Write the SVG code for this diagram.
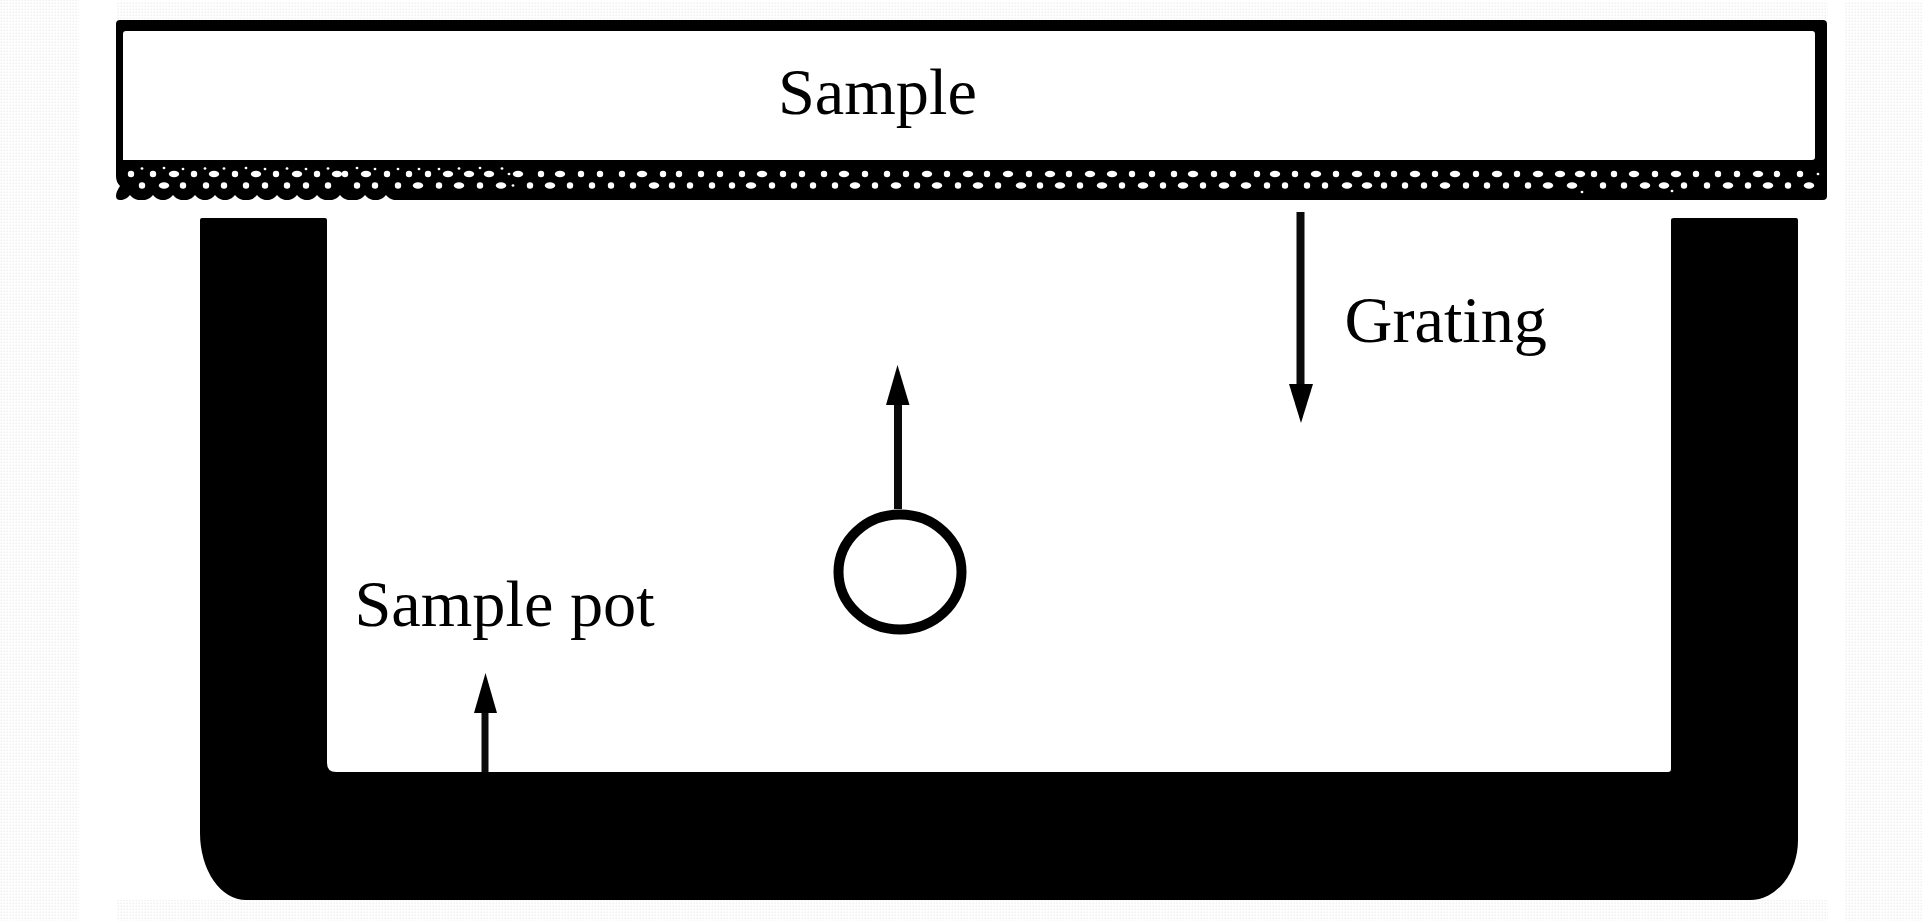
<svg xmlns="http://www.w3.org/2000/svg" width="1923" height="921" viewBox="0 0 1923 921">
<style>
text{font-family:"Liberation Serif","Times New Roman",serif;font-size:66.3px;fill:#000}
.ink{fill:#000}
.hole{fill:#fff}
.shaft{stroke:#0a0a0a;fill:none}
</style>
<defs>
<pattern id="speck" width="3" height="3" patternUnits="userSpaceOnUse"><rect width="3" height="3" fill="#fff"/><rect width="2" height="1" fill="#f3f3f3"/><rect x="1" y="2" width="1" height="1" fill="#f5f5f5"/></pattern>
<ellipse id="d" rx="3.2" ry="3.2"/>
<ellipse id="w" rx="5.2" ry="3.2"/>
<ellipse id="t" rx="1.4" ry="1.2"/>
</defs>
<rect width="1923" height="921" fill="#fff"/>
<g id="scan-margins" fill="url(#speck)">
<rect x="0" y="0" width="79" height="921"/>
<rect x="1844" y="2" width="79" height="919"/>
<rect x="116" y="2" width="1712" height="18"/>
<rect x="116" y="900" width="1712" height="21"/>
</g>
<g id="sample-pot">
<path class="ink" d="M202 218H325Q327 218 327 220V763Q327 772 336 772H1668Q1671 772 1671 769V220Q1671 218 1674 218H1796Q1798 218 1798 220V840A48 60 0 0 1 1750 900H246A46 67 0 0 1 200 833V220Q200 218 202 218Z"/>
</g>
<g id="sample-plate">
<path class="ink" fill-rule="evenodd" d="M120 20H1823Q1827 20 1827 24V196Q1827 200 1823 200H394Q389 199 386 195Q383 199 378 200H373Q368 199 365 195Q362 199 357 200H348Q343 199 340 195Q337 199 332 200H325Q320 199 317 195Q314 199 309 200H305Q300 199 297 195Q294 199 289 200H285Q280 199 277 195Q274 199 269 200H265Q260 199 257 195Q254 199 249 200H243Q238 199 235 195Q232 199 227 200H223Q218 199 215 195Q212 199 207 200H203Q198 199 195 195Q192 199 187 200H181Q176 199 173 195Q170 199 165 200H161Q156 199 153 195Q150 199 145 200H138Q133 199 130 195Q127 199 122 200H120Q116 200 116 196Q116 192 120 186Q116 182 116 176V24Q116 20 120 20ZM126 31Q123 31 123 34V160H1812Q1815 160 1815 157V34Q1815 31 1812 31Z"/>
<g class="hole">
<!-- upper row -->
<use href="#d" x="131" y="174"/><use href="#d" x="153" y="174"/><use href="#w" x="174" y="174"/><use href="#d" x="194" y="174"/><use href="#w" x="214" y="174"/><use href="#d" x="235" y="174"/><use href="#w" x="256" y="174"/><use href="#d" x="276" y="174"/><use href="#w" x="297" y="174"/><use href="#d" x="317" y="174"/><use href="#w" x="337" y="174"/><use href="#d" x="345" y="174"/><use href="#w" x="366" y="174"/><use href="#d" x="387" y="174"/><use href="#d" x="409" y="174"/><use href="#d" x="428" y="174"/><use href="#w" x="448" y="174"/><use href="#w" x="469" y="174"/><use href="#w" x="489" y="174"/><use href="#t" x="509" y="174"/><use href="#w" x="518" y="174"/><use href="#d" x="541" y="174"/><use href="#w" x="560" y="174"/><use href="#d" x="581" y="174"/><use href="#d" x="600" y="174"/><use href="#d" x="622" y="174"/><use href="#w" x="642" y="174"/><use href="#d" x="663" y="174"/><use href="#d" x="679" y="174"/><use href="#d" x="701" y="174"/><use href="#d" x="720" y="174"/><use href="#d" x="742" y="174"/><use href="#w" x="762" y="174"/><use href="#d" x="783" y="174"/><use href="#d" x="802" y="174"/><use href="#d" x="824" y="174"/><use href="#w" x="844" y="174"/><use href="#d" x="865" y="174"/><use href="#d" x="887" y="174"/><use href="#d" x="906" y="174"/><use href="#w" x="927" y="174"/><use href="#d" x="947" y="174"/><use href="#w" x="968" y="174"/><use href="#d" x="987" y="174"/><use href="#w" x="1008" y="174"/><use href="#d" x="1029" y="174"/><use href="#w" x="1050" y="174"/><use href="#d" x="1069" y="174"/><use href="#w" x="1090" y="174"/><use href="#w" x="1112" y="174"/><use href="#d" x="1132" y="174"/><use href="#d" x="1152" y="174"/><use href="#d" x="1174" y="174"/><use href="#w" x="1193" y="174"/><use href="#d" x="1214" y="174"/><use href="#d" x="1233" y="174"/><use href="#d" x="1257" y="174"/><use href="#w" x="1275" y="174"/><use href="#d" x="1295" y="174"/><use href="#w" x="1316" y="174"/><use href="#d" x="1336" y="174"/><use href="#w" x="1357" y="174"/><use href="#d" x="1377" y="174"/><use href="#d" x="1394" y="174"/><use href="#w" x="1415" y="174"/><use href="#d" x="1435" y="174"/><use href="#w" x="1455" y="174"/><use href="#d" x="1476" y="174"/><use href="#w" x="1497" y="174"/><use href="#d" x="1517" y="174"/><use href="#w" x="1538" y="174"/><use href="#w" x="1560" y="174"/><use href="#w" x="1580" y="174"/><use href="#d" x="1594" y="174"/><use href="#d" x="1614" y="174"/><use href="#w" x="1634" y="174"/><use href="#d" x="1655" y="174"/><use href="#w" x="1676" y="174"/><use href="#d" x="1696" y="174"/><use href="#d" x="1718" y="174"/><use href="#d" x="1737" y="174"/><use href="#w" x="1758" y="174"/><use href="#d" x="1777" y="174"/><use href="#d" x="1800" y="174"/><use href="#t" x="1818" y="174"/>
<!-- lower row -->
<use href="#d" x="142" y="185.5"/><use href="#w" x="164" y="185.5"/><use href="#d" x="183" y="185.5"/><use href="#d" x="206" y="185.5"/><use href="#d" x="224" y="185.5"/><use href="#d" x="246" y="185.5"/><use href="#d" x="265" y="185.5"/><use href="#d" x="287" y="185.5"/><use href="#d" x="306" y="185.5"/><use href="#d" x="328" y="185.5"/><use href="#d" x="357" y="185.5"/><use href="#d" x="375" y="185.5"/><use href="#d" x="398" y="185.5"/><use href="#w" x="418" y="185.5"/><use href="#d" x="439" y="185.5"/><use href="#w" x="459" y="185.5"/><use href="#d" x="480" y="185.5"/><use href="#w" x="501" y="185.5"/><use href="#t" x="513" y="185.5"/><use href="#d" x="530" y="185.5"/><use href="#w" x="550" y="185.5"/><use href="#d" x="570" y="185.5"/><use href="#d" x="592" y="185.5"/><use href="#d" x="611" y="185.5"/><use href="#d" x="633" y="185.5"/><use href="#w" x="654" y="185.5"/><use href="#d" x="672" y="185.5"/><use href="#d" x="690" y="185.5"/><use href="#d" x="712" y="185.5"/><use href="#d" x="732" y="185.5"/><use href="#w" x="751" y="185.5"/><use href="#d" x="772" y="185.5"/><use href="#d" x="794" y="185.5"/><use href="#d" x="813" y="185.5"/><use href="#d" x="835" y="185.5"/><use href="#w" x="855" y="185.5"/><use href="#d" x="875" y="185.5"/><use href="#w" x="896" y="185.5"/><use href="#d" x="917" y="185.5"/><use href="#w" x="937" y="185.5"/><use href="#d" x="958" y="185.5"/><use href="#w" x="978" y="185.5"/><use href="#d" x="998" y="185.5"/><use href="#w" x="1021" y="185.5"/><use href="#d" x="1040" y="185.5"/><use href="#w" x="1060" y="185.5"/><use href="#d" x="1080" y="185.5"/><use href="#w" x="1102" y="185.5"/><use href="#d" x="1122" y="185.5"/><use href="#w" x="1143" y="185.5"/><use href="#d" x="1163" y="185.5"/><use href="#w" x="1183" y="185.5"/><use href="#d" x="1203" y="185.5"/><use href="#w" x="1224" y="185.5"/><use href="#w" x="1246" y="185.5"/><use href="#d" x="1267" y="185.5"/><use href="#d" x="1285" y="185.5"/><use href="#d" x="1307" y="185.5"/><use href="#d" x="1325" y="185.5"/><use href="#w" x="1347" y="185.5"/><use href="#w" x="1367" y="185.5"/><use href="#d" x="1384" y="185.5"/><use href="#d" x="1405" y="185.5"/><use href="#d" x="1424" y="185.5"/><use href="#w" x="1445" y="185.5"/><use href="#d" x="1466" y="185.5"/><use href="#d" x="1487" y="185.5"/><use href="#d" x="1506" y="185.5"/><use href="#d" x="1528" y="185.5"/><use href="#w" x="1548" y="185.5"/><use href="#w" x="1572" y="185.5"/><use href="#t" x="1582" y="192"/><use href="#d" x="1603" y="185.5"/><use href="#d" x="1624" y="185.5"/><use href="#w" x="1645" y="185.5"/><use href="#w" x="1664" y="185.5"/><use href="#t" x="1672" y="191"/><use href="#d" x="1684" y="185.5"/><use href="#d" x="1707" y="185.5"/><use href="#w" x="1728" y="185.5"/><use href="#d" x="1748" y="185.5"/><use href="#w" x="1768" y="185.5"/><use href="#d" x="1788" y="185.5"/><use href="#w" x="1809" y="185.5"/>
<!-- small dots near the upper edge, left end only -->
<use href="#t" x="142" y="168.5"/><use href="#t" x="164" y="168"/><use href="#t" x="183" y="169"/><use href="#t" x="205" y="168.5"/><use href="#t" x="224" y="168.5"/><use href="#t" x="246" y="168"/><use href="#t" x="265" y="169"/><use href="#t" x="287" y="168.5"/><use href="#t" x="306" y="169"/><use href="#t" x="328" y="168.5"/><use href="#t" x="357" y="168"/><use href="#t" x="375" y="169"/><use href="#t" x="398" y="169"/><use href="#t" x="419" y="169"/><use href="#t" x="439" y="169"/><use href="#t" x="459" y="168.5"/><use href="#t" x="480" y="168"/><use href="#t" x="502" y="168.5"/>
</g>
</g>
<g id="bubble">
<ellipse cx="900" cy="572" rx="61.5" ry="57.5" fill="none" stroke="#000" stroke-width="10"/>
</g>
<g id="labels">
<g id="label-sample"><text x="778" y="114">Sample</text></g>
<g id="label-grating"><text x="1344.5" y="342">Grating</text></g>
<g id="label-sample-pot"><text x="354.5" y="626">Sample pot</text></g>
</g>
<g id="connectors">
<path class="shaft" stroke-width="8" d="M1300.5 212V386"/>
<path class="ink" d="M1289 384H1313L1301 423Z"/>
<path class="shaft" stroke-width="8" d="M898 509V403"/>
<path class="ink" d="M886 405H909.5L897.5 365Z"/>
<path class="shaft" stroke-width="7" d="M485 772V711"/>
<path class="ink" d="M474 713H497L485.5 673Z"/>
</g>
</svg>
